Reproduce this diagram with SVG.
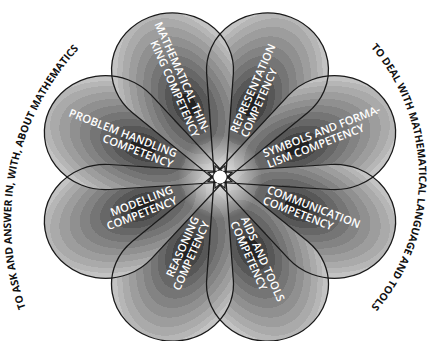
<svg xmlns="http://www.w3.org/2000/svg" xmlns:xlink="http://www.w3.org/1999/xlink" width="429" height="341" viewBox="0 0 429 341">
<style>
.fill{fill:url(#pg);stroke:none}
.outline{fill:none;stroke:#1a1a1a;stroke-width:1.2;vector-effect:non-scaling-stroke}
.lbl{font-family:"Open Sans","Liberation Sans",sans-serif;font-weight:600;font-size:11.2px;fill:#ffffff}
.arc{font-family:"Open Sans","Liberation Sans",sans-serif;font-weight:700;font-size:10.4px;fill:#111111}
</style>
<defs>
<path id="petal" d="M0,12 L51.04,-90.61 A57,57 0 1 0 -51.04,-90.61 Z"/>
<radialGradient id="pg" gradientUnits="userSpaceOnUse" cx="0" cy="-78" r="100" fx="0" fy="-78" gradientTransform="translate(0,-78) scale(0.6,1) translate(0,78)">
<stop offset="0" stop-color="#222222"/><stop offset="0.12" stop-color="#222222"/>
<stop offset="0.12" stop-color="#454545"/><stop offset="0.22" stop-color="#454545"/>
<stop offset="0.22" stop-color="#575757"/><stop offset="0.32" stop-color="#575757"/>
<stop offset="0.32" stop-color="#676767"/><stop offset="0.42" stop-color="#676767"/>
<stop offset="0.42" stop-color="#757575"/><stop offset="0.52" stop-color="#757575"/>
<stop offset="0.52" stop-color="#838383"/><stop offset="0.62" stop-color="#838383"/>
<stop offset="0.62" stop-color="#909090"/><stop offset="0.72" stop-color="#909090"/>
<stop offset="0.72" stop-color="#9d9d9d"/><stop offset="0.82" stop-color="#9d9d9d"/>
<stop offset="0.82" stop-color="#aaaaaa"/><stop offset="0.91" stop-color="#aaaaaa"/>
<stop offset="0.91" stop-color="#b6b6b6"/><stop offset="0.98" stop-color="#b6b6b6"/>
<stop offset="0.98" stop-color="#c3c3c3"/><stop offset="1" stop-color="#c3c3c3"/>
</radialGradient>
<radialGradient id="glow" cx="0.5" cy="0.5" r="0.5">
<stop offset="0" stop-color="#ffffff" stop-opacity="0.85"/>
<stop offset="1" stop-color="#ffffff" stop-opacity="0"/>
</radialGradient>
<path id="leftArc" d="M57.1,368.3 A255,255 0 0 1 138.5,1.2"/>
<path id="rightArc" d="M319.5,4.7 A199,199 0 0 1 319.5,349.3"/>
</defs>

<g id="petal-fills" transform="translate(220,177) scale(1.07,1)">
<use xlink:href="#petal" class="fill" transform="rotate(22.5)"/>
<use xlink:href="#petal" class="fill" transform="rotate(67.5)"/>
<use xlink:href="#petal" class="fill" transform="rotate(112.5)"/>
<use xlink:href="#petal" class="fill" transform="rotate(157.5)"/>
<use xlink:href="#petal" class="fill" transform="rotate(202.5)"/>
<use xlink:href="#petal" class="fill" transform="rotate(247.5)"/>
<use xlink:href="#petal" class="fill" transform="rotate(292.5)"/>
<use xlink:href="#petal" class="fill" transform="rotate(337.5)"/>
</g>
<circle cx="220" cy="177" r="42" fill="url(#glow)"/>

<g id="connectors"></g>

<g id="n-representation">
<use xlink:href="#petal" class="outline" transform="translate(220,177) scale(1.07,1) rotate(22.5)"/>
<text class="lbl" text-anchor="start" transform="translate(238.8,134.5) rotate(-66.1)"><tspan x="0" y="-2">REPRESENTATION</tspan><tspan x="0" y="9.5">COMPETENCY</tspan></text>
</g>
<g id="n-symbols">
<use xlink:href="#petal" class="outline" transform="translate(220,177) scale(1.07,1) rotate(67.5)"/>
<text class="lbl" text-anchor="start" transform="translate(265.5,159.4) rotate(-21.2)"><tspan x="0" y="-2">SYMBOLS AND FORMA-</tspan><tspan x="0" y="9.5">LISM COMPETENCY</tspan></text>
</g>
<g id="n-communication">
<use xlink:href="#petal" class="outline" transform="translate(220,177) scale(1.07,1) rotate(112.5)"/>
<text class="lbl" text-anchor="start" transform="translate(265.5,194.6) rotate(21.2)"><tspan x="0" y="-2">COMMUNICATION</tspan><tspan x="0" y="9.5">COMPETENCY</tspan></text>
</g>
<g id="n-aids">
<use xlink:href="#petal" class="outline" transform="translate(220,177) scale(1.07,1) rotate(157.5)"/>
<text class="lbl" text-anchor="start" transform="translate(238.8,219.5) rotate(66.1)"><tspan x="0" y="-2">AIDS AND TOOLS</tspan><tspan x="0" y="9.5">COMPETENCY</tspan></text>
</g>
<g id="n-reasoning">
<use xlink:href="#petal" class="outline" transform="translate(220,177) scale(1.07,1) rotate(202.5)"/>
<text class="lbl" text-anchor="end" transform="translate(201.2,219.5) rotate(-66.1)"><tspan x="0" y="-2">REASONING</tspan><tspan x="0" y="9.5">COMPETENCY</tspan></text>
</g>
<g id="n-modelling">
<use xlink:href="#petal" class="outline" transform="translate(220,177) scale(1.07,1) rotate(247.5)"/>
<text class="lbl" text-anchor="end" transform="translate(174.5,194.6) rotate(-21.2)"><tspan x="0" y="-2">MODELLING</tspan><tspan x="0" y="9.5">COMPETENCY</tspan></text>
</g>
<g id="n-problem">
<use xlink:href="#petal" class="outline" transform="translate(220,177) scale(1.07,1) rotate(292.5)"/>
<text class="lbl" text-anchor="end" transform="translate(174.5,159.4) rotate(21.2)"><tspan x="0" y="-2">PROBLEM HANDLING</tspan><tspan x="0" y="9.5">COMPETENCY</tspan></text>
</g>
<g id="n-mathematical">
<use xlink:href="#petal" class="outline" transform="translate(220,177) scale(1.07,1) rotate(337.5)"/>
<text class="lbl" text-anchor="end" transform="translate(201.2,134.5) rotate(66.1)"><tspan x="0" y="-2">MATHEMATICAL THIN-</tspan><tspan x="0" y="9.5">KING COMPETENCY</tspan></text>
</g>

<circle id="center" cx="220" cy="177" r="6.5" fill="#ffffff"/>

<g id="arc-left">
<text class="arc" text-anchor="middle"><textPath xlink:href="#leftArc" startOffset="49%">TO ASK AND ANSWER IN, WITH, ABOUT MATHEMATICS</textPath></text>
</g>
<g id="arc-right">
<text class="arc" text-anchor="middle"><textPath xlink:href="#rightArc" startOffset="50%">TO DEAL WITH MATHEMATICAL LANGUAGE AND TOOLS</textPath></text>
</g>
</svg>
